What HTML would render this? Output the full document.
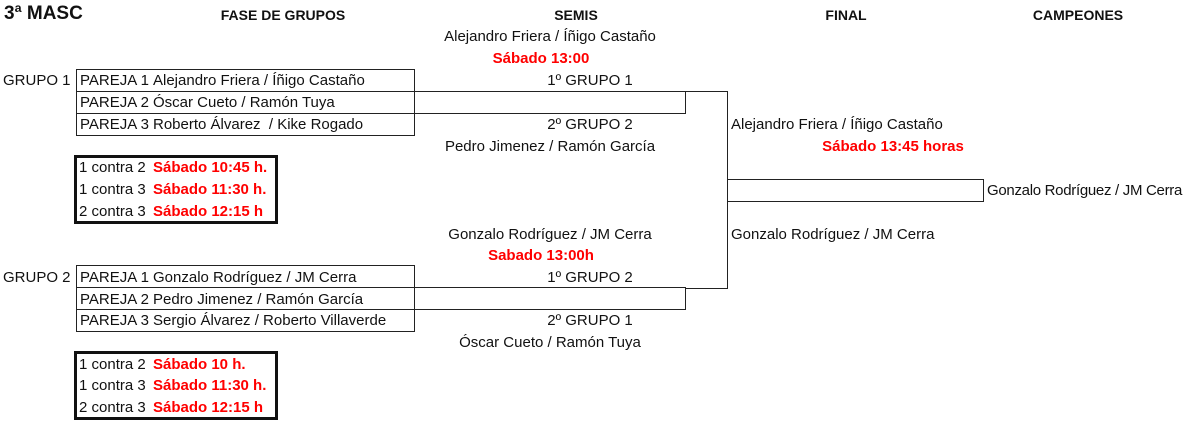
<!DOCTYPE html>
<html><head><meta charset="utf-8"><style>
body{margin:0;width:1200px;height:421px;background:#fff;position:relative;overflow:hidden;font-family:"Liberation Sans",sans-serif;font-size:15px;color:#111}
.t{position:absolute;white-space:nowrap;line-height:22px;height:22px}
.c{transform:translateX(-50%)}
.b{font-weight:bold;font-size:14px}
.r{color:#f00;font-weight:bold}
.box{position:absolute;border:1px solid #222;box-sizing:border-box}
.thick{position:absolute;border:3px solid #111;box-sizing:border-box}
.h{position:absolute;height:0;border-top:1px solid #222}
.v{position:absolute;width:0;border-left:1px solid #222}
</style></head><body>
<div class="t b" style="left:4px;top:3px;font-size:19px">3ª MASC</div>
<div class="t b c" style="left:283px;top:4px">FASE DE GRUPOS</div>
<div class="t b c" style="left:576px;top:4px">SEMIS</div>
<div class="t b c" style="left:846px;top:4px">FINAL</div>
<div class="t b c" style="left:1078px;top:4px">CAMPEONES</div>

<div class="t c" style="left:550px;top:26px">Alejandro Friera / Íñigo Castaño</div>
<div class="t r c" style="left:541px;top:48px">Sábado 13:00</div>

<div class="t" style="left:3px;top:70px">GRUPO 1</div>
<div class="box" style="left:76px;top:69px;width:339px;height:67px"></div>
<div class="h" style="left:76px;top:91px;width:610px"></div>
<div class="h" style="left:76px;top:113px;width:610px"></div>
<div class="v" style="left:685px;top:91px;height:23px"></div>
<div class="t" style="left:80px;top:70px">PAREJA 1</div><div class="t" style="left:153px;top:70px">Alejandro Friera / Íñigo Castaño</div>
<div class="t" style="left:80px;top:92px">PAREJA 2</div><div class="t" style="left:153px;top:92px">Óscar Cueto / Ramón Tuya</div>
<div class="t" style="left:80px;top:114px">PAREJA 3</div><div class="t" style="left:153px;top:114px">Roberto Álvarez &nbsp;/ Kike Rogado</div>
<div class="t c" style="left:590px;top:70px">1º GRUPO 1</div>
<div class="t c" style="left:590px;top:114px">2º GRUPO 2</div>
<div class="t c" style="left:550px;top:136px">Pedro Jimenez / Ramón García</div>

<div class="thick" style="left:74px;top:155px;width:204px;height:69px"></div>
<div class="t" style="left:79px;top:157px">1 contra 2</div><div class="t r" style="left:153px;top:157px">Sábado 10:45 h.</div>
<div class="t" style="left:79px;top:179px">1 contra 3</div><div class="t r" style="left:153px;top:179px">Sábado 11:30 h.</div>
<div class="t" style="left:79px;top:201px">2 contra 3</div><div class="t r" style="left:153px;top:201px">Sábado 12:15 h</div>

<div class="h" style="left:685px;top:91px;width:42px"></div>
<div class="v" style="left:727px;top:91px;height:198px"></div>
<div class="h" style="left:685px;top:288px;width:42px"></div>
<div class="box" style="left:727px;top:179px;width:257px;height:23px"></div>
<div class="t" style="left:731px;top:114px">Alejandro Friera / Íñigo Castaño</div>
<div class="t r c" style="left:893px;top:136px">Sábado 13:45 horas</div>
<div class="t" style="left:731px;top:224px">Gonzalo Rodríguez / JM Cerra</div>
<div class="t" style="left:987px;top:180px;letter-spacing:-0.3px">Gonzalo Rodríguez / JM Cerra</div>

<div class="t c" style="left:550px;top:224px">Gonzalo Rodríguez / JM Cerra</div>
<div class="t r c" style="left:541px;top:245px">Sabado 13:00h</div>

<div class="t" style="left:3px;top:267px">GRUPO 2</div>
<div class="box" style="left:76px;top:265px;width:339px;height:67px"></div>
<div class="h" style="left:76px;top:287px;width:610px"></div>
<div class="h" style="left:76px;top:309px;width:610px"></div>
<div class="v" style="left:685px;top:287px;height:23px"></div>
<div class="t" style="left:80px;top:267px">PAREJA 1</div><div class="t" style="left:153px;top:267px">Gonzalo Rodríguez / JM Cerra</div>
<div class="t" style="left:80px;top:289px">PAREJA 2</div><div class="t" style="left:153px;top:289px">Pedro Jimenez / Ramón García</div>
<div class="t" style="left:80px;top:310px">PAREJA 3</div><div class="t" style="left:153px;top:310px">Sergio Álvarez / Roberto Villaverde</div>
<div class="t c" style="left:590px;top:267px">1º GRUPO 2</div>
<div class="t c" style="left:590px;top:310px">2º GRUPO 1</div>
<div class="t c" style="left:550px;top:332px">Óscar Cueto / Ramón Tuya</div>

<div class="thick" style="left:74px;top:351px;width:204px;height:69px"></div>
<div class="t" style="left:79px;top:354px">1 contra 2</div><div class="t r" style="left:153px;top:354px">Sábado 10 h.</div>
<div class="t" style="left:79px;top:375px">1 contra 3</div><div class="t r" style="left:153px;top:375px">Sábado 11:30 h.</div>
<div class="t" style="left:79px;top:397px">2 contra 3</div><div class="t r" style="left:153px;top:397px">Sábado 12:15 h</div>
</body></html>
